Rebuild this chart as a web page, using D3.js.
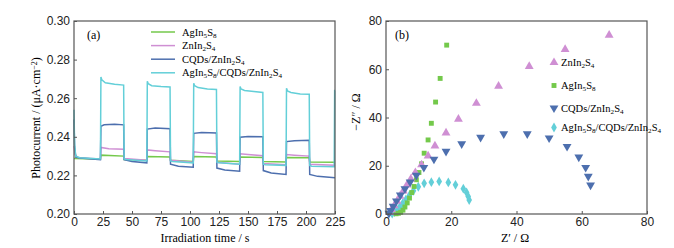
<!DOCTYPE html>
<html>
<head>
<meta charset="utf-8">
<script src="https://cdn.jsdelivr.net/npm/d3@7"></script>
<style>
  body { margin: 0; background: #fff; }
  svg { font-family: 'Liberation Serif', 'DejaVu Serif', serif; }
</style>
</head>
<body>
<svg id="chart" width="674" height="248"></svg>
<script>
// ---- panel (a): photocurrent vs time, [t, value] points
const agInS = [[0,0.2288],[22.8,0.2285],[23.2,0.2305],[42.8,0.2300],[43.2,0.2282],[62.8,0.2278],[63.2,0.2298],[82.8,0.2295],[83.2,0.2278],[102.8,0.2272],[103.2,0.2298],[122.8,0.2295],[123.2,0.2275],[142.8,0.2272],[143.2,0.2295],[162.8,0.2293],[163.2,0.2272],[182.8,0.2270],[183.2,0.2293],[202.8,0.2292],[203.2,0.2270],[225,0.2268]];
const znInS = [[0,0.2352],[1,0.231],[3,0.2292],[22.8,0.2285],[23.2,0.2345],[30,0.2338],[42.8,0.2335],[43.2,0.2288],[62.8,0.2278],[63.2,0.2332],[70,0.2328],[82.8,0.2322],[83.2,0.2278],[102.8,0.2268],[103.2,0.2322],[110,0.2318],[122.8,0.2312],[123.2,0.2268],[142.8,0.2258],[143.2,0.2312],[150,0.2308],[162.8,0.2302],[163.2,0.2262],[182.8,0.2255],[183.2,0.2308],[190,0.2305],[202.8,0.2300],[203.2,0.2258],[225,0.2252]];
const cqdZnInS = [[0,0.249],[0.5,0.235],[1.5,0.2295],[5,0.229],[22.8,0.2282],[23.2,0.2455],[26,0.2462],[35,0.2465],[42.8,0.2462],[43.2,0.2282],[50,0.2272],[62.8,0.2265],[63.2,0.244],[70,0.2445],[82.8,0.2442],[83.2,0.2258],[90,0.2248],[102.8,0.2242],[103.2,0.2418],[110,0.2422],[122.8,0.2420],[123.2,0.2238],[130,0.2228],[142.8,0.2222],[143.2,0.2398],[150,0.2402],[162.8,0.2400],[163.2,0.2225],[170,0.2212],[182.8,0.2205],[183.2,0.2375],[190,0.238],[202.8,0.2382],[203.2,0.2205],[210,0.2195],[225,0.2188]];
const agCqdZnInS = [[0,0.254],[0.5,0.236],[1.5,0.230],[5,0.2292],[22.8,0.2285],[23.2,0.271],[24,0.2695],[27,0.268],[35,0.2672],[42.8,0.2668],[43.2,0.2285],[45,0.2282],[62.8,0.2275],[63.2,0.2688],[64,0.2675],[67,0.2665],[75,0.266],[82.8,0.2658],[83.2,0.2275],[85,0.2272],[102.8,0.2265],[103.2,0.2678],[104,0.2665],[107,0.2655],[115,0.2648],[122.8,0.2645],[123.2,0.2268],[125,0.2265],[142.8,0.2258],[143.2,0.266],[144,0.2648],[147,0.264],[155,0.2635],[162.8,0.263],[163.2,0.2258],[165,0.2255],[182.8,0.2252],[183.2,0.2652],[184,0.2638],[187,0.263],[195,0.2622],[202.8,0.262],[203.2,0.2252],[205,0.2248],[224.3,0.2245],[224.7,0.264],[225,0.264]];
const timeTicks = [0, 25, 50, 75, 100, 125, 150, 175, 200, 225];
const currentTicks = [0.20, 0.22, 0.24, 0.26, 0.28, 0.30];

// ---- panel (b): Nyquist plot, [Z', -Z''] points
const znInSEis = [[68.4,74.1],[54.9,68.2],[43.9,61.2],[34.5,53.0],[27.7,45.9],[22.2,39.3],[18.4,33.6],[15.0,28.2],[12.9,24.1],[10.9,20.4],[9.0,17.2],[7.6,14.5],[6.4,12.0],[5.3,9.6],[4.3,7.4],[3.4,5.3],[2.5,3.4],[1.7,1.8],[1.1,0.6]];
const agInSEis = [[18.6,70.0],[16.6,56.2],[15.2,46.4],[13.9,37.6],[12.9,30.7],[11.7,25.2],[10.9,20.8],[10.1,17.2],[9.3,14.2],[8.6,11.4],[7.9,8.9],[7.2,6.6],[6.5,4.6],[5.8,2.9],[5.2,1.6],[4.5,0.7],[3.8,0.3],[3.1,0.1]];
const cqdZnInSEis = [[62.7,12.0],[62.0,15.6],[61.2,19.3],[59.1,23.6],[55.5,28.0],[50.0,31.5],[43.3,33.2],[36.1,33.2],[29.0,31.8],[23.2,29.1],[18.4,26.0],[14.7,22.7],[11.6,19.3],[9.3,16.0],[7.4,13.2],[5.8,10.4],[4.4,7.8],[3.2,5.4],[2.2,3.2],[1.4,1.4],[0.9,0.3]];
const agCqdZnInSEis = [[25.5,5.8],[25.2,7.3],[24.7,8.9],[23.7,10.5],[21.3,12.1],[19.1,13.1],[16.3,13.5],[13.9,13.2],[11.7,12.7],[9.9,11.3],[8.4,9.6],[7.2,7.8],[6.1,6.0],[5.1,4.4],[4.2,2.9],[3.4,1.7],[2.6,0.8],[1.9,0.2]];
const zTicks = [0, 20, 40, 60, 80];

const green = '#74c94b', pink = '#cf8fd3', blue = '#4d6fae', cyan = '#63cfd8';
const frameColor = '#555';

const svg = d3.select('#chart');

// label with subscripts: parts are [text, isSub]
function richText(sel, parts, size) {
    parts.forEach(p => {
        const t = sel.append('tspan').text(p[0]);
        if (p[1]) t.attr('font-size', size * 0.68).attr('baseline-shift', '-25%');
    });
}
const nAg = [['AgIn', 0], ['5', 1], ['S', 0], ['8', 1]];
const nZn = [['ZnIn', 0], ['2', 1], ['S', 0], ['4', 1]];
const nCqd = [['CQDs/ZnIn', 0], ['2', 1], ['S', 0], ['4', 1]];
const nAll = [['AgIn', 0], ['5', 1], ['S', 0], ['8', 1], ['/CQDs/ZnIn', 0], ['2', 1], ['S', 0], ['4', 1]];

function frame(x0, x1, y0, y1) {
    svg.append('rect')
        .attr('x', x0).attr('y', y1)
        .attr('width', x1 - x0).attr('height', y0 - y1)
        .attr('fill', 'none').attr('stroke', frameColor).attr('stroke-width', 1.2);
}

function axes(xScale, yScale, xTicks, yTicks, xFmt, yFmt) {
    const [x0, x1] = xScale.range();
    const [y0, y1] = yScale.range();
    svg.append('g')
        .attr('transform', `translate(0,${y0})`)
        .call(d3.axisTop(xScale).tickValues(xTicks).tickSize(3).tickPadding(-15).tickFormat(xFmt))
        .call(g => g.select('.domain').remove())
        .call(g => g.selectAll('line').attr('stroke', frameColor))
        .call(g => g.selectAll('text').attr('font-size', 12).attr('fill', '#222').attr('font-family', null));
    svg.append('g')
        .attr('transform', `translate(${x0},0)`)
        .call(d3.axisRight(yScale).tickValues(yTicks).tickSize(3).tickPadding(-7).tickFormat(yFmt))
        .call(g => g.select('.domain').remove())
        .call(g => g.selectAll('line').attr('stroke', frameColor))
        .call(g => g.selectAll('text').attr('font-size', 12).attr('fill', '#222')
            .attr('text-anchor', 'end').attr('font-family', null));
}

// ================= panel (a)
const ax = d3.scaleLinear().domain([0, 225]).range([74, 335]);
const ay = d3.scaleLinear().domain([0.20, 0.30]).range([214, 21]);

const line = d3.line().x(d => ax(d[0])).y(d => ay(d[1]));
const seriesA = [
    { data: agInS, color: green },
    { data: znInS, color: pink },
    { data: cqdZnInS, color: blue },
    { data: agCqdZnInS, color: cyan }
];
seriesA.forEach(s => {
    svg.append('path')
        .datum(s.data)
        .attr('d', line)
        .attr('fill', 'none')
        .attr('stroke', s.color)
        .attr('stroke-width', 1.5);
});

frame(74, 335, 214, 21);
axes(ax, ay, timeTicks, currentTicks, d3.format('d'), d3.format('.2f'));

svg.append('text').attr('x', 87).attr('y', 39).attr('font-size', 12).text('(a)');

const legA = [nAg, nZn, nCqd, nAll];
legA.forEach((name, i) => {
    const y = 32 + i * 13.6;
    svg.append('line').attr('x1', 151).attr('x2', 175).attr('y1', y).attr('y2', y)
        .attr('stroke', seriesA[i].color).attr('stroke-width', 1.5);
    richText(svg.append('text').attr('x', 182).attr('y', y + 3.5).attr('font-size', 10.5), name, 10.5);
});

svg.append('text')
    .attr('x', 205).attr('y', 242).attr('text-anchor', 'middle').attr('font-size', 12)
    .text('Irradiation time / s');
const ylabA = svg.append('text')
    .attr('transform', 'translate(40,118) rotate(-90)')
    .attr('text-anchor', 'middle').attr('font-size', 12);
ylabA.append('tspan').text('Photocurrent / (μA·cm');
ylabA.append('tspan').text('−2').attr('font-size', 8).attr('baseline-shift', '40%');
ylabA.append('tspan').text(')');

// ================= panel (b)
const bx = d3.scaleLinear().domain([0, 80]).range([386, 647]);
const by = d3.scaleLinear().domain([0, 80]).range([214, 21]);

const seriesB = [
    { data: znInSEis, color: pink, type: d3.symbolTriangle, size: 34, rot: 0, name: nZn },
    { data: agInSEis, color: green, type: d3.symbolSquare, size: 24, rot: 0, name: nAg },
    { data: cqdZnInSEis, color: blue, type: d3.symbolTriangle, size: 34, rot: 180, name: nCqd },
    { data: agCqdZnInSEis, color: cyan, type: d3.symbolDiamond, size: 28, rot: 0, name: nAll }
];
// draw in reverse so pink sits on top like the original
[seriesB[3], seriesB[1], seriesB[0], seriesB[2]].forEach(s => {
    svg.append('g').selectAll('path')
        .data(s.data)
        .join('path')
        .attr('d', d3.symbol().type(s.type).size(s.size))
        .attr('transform', d => `translate(${bx(d[0])},${by(d[1])}) rotate(${s.rot})`)
        .attr('fill', s.color);
});

frame(386, 647, 214, 21);
axes(bx, by, zTicks, zTicks, d3.format('d'), d3.format('d'));

svg.append('text').attr('x', 395).attr('y', 39).attr('font-size', 12).text('(b)');

seriesB.forEach((s, i) => {
    const y = [62.5, 85.5, 108, 127.5][i];
    svg.append('path')
        .attr('d', d3.symbol().type(s.type).size(s.size)())
        .attr('transform', `translate(554,${y}) rotate(${s.rot})`)
        .attr('fill', s.color);
    richText(svg.append('text').attr('x', 561).attr('y', y + 3.5).attr('font-size', 10.5), s.name, 10.5);
});

svg.append('text')
    .attr('x', 515).attr('y', 242).attr('text-anchor', 'middle').attr('font-size', 12)
    .text('Z′ / Ω');
svg.append('text')
    .attr('transform', 'translate(360,112) rotate(-90)')
    .attr('text-anchor', 'middle').attr('font-size', 12)
    .text('−Z″ / Ω');
</script>
</body>
</html>
